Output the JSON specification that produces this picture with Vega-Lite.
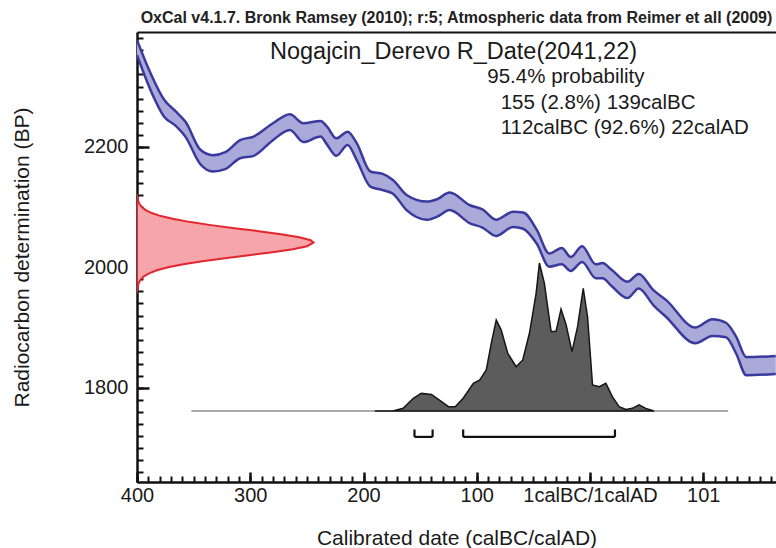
{
  "$schema": "https://vega.github.io/schema/vega-lite/v6.json",
  "width": 639,
  "height": 450,
  "autosize": {"type": "none"},
  "padding": {"left": 137, "top": 32, "right": 0, "bottom": 66},
  "background": "white",
  "title": {
    "text": "OxCal v4.1.7. Bronk Ramsey (2010); r:5; Atmospheric data from Reimer et all (2009)",
    "fontSize": 16,
    "fontWeight": "bold",
    "font": "Liberation Sans",
    "anchor": "middle",
    "frame": "group",
    "offset": 6,
    "color": "#222222"
  },
  "config": {
    "font": "Liberation Sans",
    "view": {"stroke": null},
    "axis": {
      "grid": false,
      "zindex": 1,
      "domainColor": "#111111",
      "tickColor": "#111111",
      "labelColor": "#1a1a1a",
      "titleColor": "#1a1a1a",
      "labelFont": "Liberation Sans",
      "titleFont": "Liberation Sans"
    }
  },
  "datasets": {
    "curve": [
      {"year": -400, "lo": 2352, "hi": 2377},
      {"year": -388, "lo": 2294, "hi": 2322},
      {"year": -376, "lo": 2250, "hi": 2278},
      {"year": -366, "lo": 2235, "hi": 2259},
      {"year": -357, "lo": 2216, "hi": 2241},
      {"year": -344, "lo": 2171, "hi": 2195},
      {"year": -333, "lo": 2159, "hi": 2186},
      {"year": -322, "lo": 2163, "hi": 2191},
      {"year": -309, "lo": 2181, "hi": 2211},
      {"year": -297, "lo": 2185, "hi": 2217},
      {"year": -280, "lo": 2211, "hi": 2239},
      {"year": -265, "lo": 2228, "hi": 2254},
      {"year": -253, "lo": 2208, "hi": 2239},
      {"year": -238, "lo": 2217, "hi": 2243},
      {"year": -232, "lo": 2203, "hi": 2233},
      {"year": -224, "lo": 2185, "hi": 2214},
      {"year": -214, "lo": 2203, "hi": 2225},
      {"year": -206, "lo": 2178, "hi": 2206},
      {"year": -194, "lo": 2134, "hi": 2159},
      {"year": -183, "lo": 2128, "hi": 2155},
      {"year": -174, "lo": 2122, "hi": 2145},
      {"year": -162, "lo": 2095, "hi": 2120},
      {"year": -144, "lo": 2079, "hi": 2109},
      {"year": -135, "lo": 2084, "hi": 2113},
      {"year": -124, "lo": 2095, "hi": 2124},
      {"year": -106, "lo": 2073, "hi": 2103},
      {"year": -95, "lo": 2066, "hi": 2096},
      {"year": -83, "lo": 2052, "hi": 2079},
      {"year": -68, "lo": 2067, "hi": 2092},
      {"year": -59, "lo": 2064, "hi": 2091},
      {"year": -47, "lo": 2039, "hi": 2062},
      {"year": -36, "lo": 2001, "hi": 2023},
      {"year": -25, "lo": 2005, "hi": 2032},
      {"year": -17, "lo": 1994, "hi": 2017},
      {"year": -7, "lo": 2009, "hi": 2035},
      {"year": 5, "lo": 1982, "hi": 2005},
      {"year": 11, "lo": 1982, "hi": 2007},
      {"year": 19, "lo": 1969, "hi": 1996},
      {"year": 33, "lo": 1949, "hi": 1976},
      {"year": 43, "lo": 1965, "hi": 1989},
      {"year": 56, "lo": 1937, "hi": 1962},
      {"year": 67, "lo": 1918, "hi": 1946},
      {"year": 93, "lo": 1874, "hi": 1900},
      {"year": 108, "lo": 1886, "hi": 1914},
      {"year": 120, "lo": 1884, "hi": 1908},
      {"year": 129, "lo": 1857, "hi": 1885},
      {"year": 138, "lo": 1821, "hi": 1851},
      {"year": 164, "lo": 1823, "hi": 1853}
    ],
    "gauss": [
      {"bp": 1960, "p": 0.0011}, {"bp": 1965, "p": 0.0026}, {"bp": 1970, "p": 0.0055},
      {"bp": 1975, "p": 0.0111}, {"bp": 1980, "p": 0.0214}, {"bp": 1985, "p": 0.0392},
      {"bp": 1990, "p": 0.0681}, {"bp": 1995, "p": 0.1124}, {"bp": 2000, "p": 0.1761},
      {"bp": 2005, "p": 0.2622}, {"bp": 2010, "p": 0.3705}, {"bp": 2015, "p": 0.4975},
      {"bp": 2020, "p": 0.6341}, {"bp": 2025, "p": 0.7676}, {"bp": 2030, "p": 0.8825},
      {"bp": 2035, "p": 0.9635}, {"bp": 2041, "p": 1.0}, {"bp": 2045, "p": 0.9836},
      {"bp": 2050, "p": 0.9197}, {"bp": 2055, "p": 0.8167}, {"bp": 2060, "p": 0.6887},
      {"bp": 2065, "p": 0.5516}, {"bp": 2070, "p": 0.4195}, {"bp": 2075, "p": 0.303},
      {"bp": 2080, "p": 0.2078}, {"bp": 2085, "p": 0.1353}, {"bp": 2090, "p": 0.0837},
      {"bp": 2095, "p": 0.0492}, {"bp": 2100, "p": 0.0274}, {"bp": 2105, "p": 0.0145},
      {"bp": 2110, "p": 0.0073}, {"bp": 2115, "p": 0.0035}, {"bp": 2120, "p": 0.0016}
    ],
    "post": [
      {"year": -190, "p": 0}, {"year": -174, "p": 0}, {"year": -165, "p": 0.018},
      {"year": -156, "p": 0.086}, {"year": -149, "p": 0.119}, {"year": -140, "p": 0.112},
      {"year": -133, "p": 0.074}, {"year": -125, "p": 0.029}, {"year": -119, "p": 0.029},
      {"year": -112, "p": 0.086}, {"year": -103, "p": 0.187}, {"year": -97.5, "p": 0.209},
      {"year": -91.6, "p": 0.277}, {"year": -87.2, "p": 0.457}, {"year": -82.8, "p": 0.615},
      {"year": -78.4, "p": 0.547}, {"year": -72.6, "p": 0.389}, {"year": -65.2, "p": 0.299},
      {"year": -59.4, "p": 0.345}, {"year": -53.5, "p": 0.525}, {"year": -47.6, "p": 0.795},
      {"year": -44.7, "p": 1.0}, {"year": -40.3, "p": 0.863}, {"year": -34.4, "p": 0.538},
      {"year": -30, "p": 0.538}, {"year": -25.6, "p": 0.688}, {"year": -21.2, "p": 0.584},
      {"year": -15.9, "p": 0.401}, {"year": -11, "p": 0.57}, {"year": -6, "p": 0.829},
      {"year": -2.2, "p": 0.637}, {"year": 2.2, "p": 0.176}, {"year": 8.1, "p": 0.164},
      {"year": 14, "p": 0.187}, {"year": 19.8, "p": 0.096}, {"year": 25.7, "p": 0.029},
      {"year": 31.6, "p": 0.011}, {"year": 37.4, "p": 0.018}, {"year": 43.3, "p": 0.041},
      {"year": 49.2, "p": 0.018}, {"year": 56.5, "p": 0}
    ],
    "ranges": [
      {"from": -155, "to": -139},
      {"from": -112, "to": 22}
    ],
    "heading": [
      {"label": "Nogajcin_Derevo R_Date(2041,22)", "year": -282.6, "bp": 2346}
    ],
    "lines": [
      {"label": "95.4% probability", "year": -90.7, "bp": 2306},
      {"label": "155 (2.8%) 139calBC", "year": -78.9, "bp": 2263},
      {"label": "112calBC (92.6%) 22calAD", "year": -78.9, "bp": 2221}
    ]
  },
  "layer": [
    {
      "data": {"name": "curve"},
      "mark": {"type": "area", "fill": "#a9a9da", "interpolate": "monotone", "clip": true},
      "encoding": {
        "x": {
          "field": "year", "type": "quantitative",
          "scale": {"domain": [-400, 164.2], "nice": false, "zero": false},
          "axis": {
            "orient": "bottom",
            "values": [-400, -300, -200, -100, 0, 100],
            "labelExpr": "datum.value == 0 ? '1calBC/1calAD' : (datum.value < 0 ? '' + (-datum.value) : '' + (datum.value + 1))",
            "tickSize": -10,
            "tickWidth": 2.5,
            "domainWidth": 2.5,
            "labelFontSize": 20,
            "labelPadding": 13,
            "labelFlush": false,
            "labelOverlap": false,
            "title": "Calibrated date (calBC/calAD)",
            "titleFontSize": 21,
            "titleFontWeight": "normal",
            "titlePadding": 22
          }
        },
        "y": {
          "field": "lo", "type": "quantitative",
          "scale": {"domain": [1643.7, 2390.5], "nice": false, "zero": false},
          "axis": {
            "orient": "left",
            "values": [1800, 2000, 2200],
            "format": "d",
            "tickSize": -12,
            "tickWidth": 2.5,
            "domainWidth": 2.5,
            "labelFontSize": 20,
            "labelPadding": 21,
            "title": "Radiocarbon determination (BP)",
            "titleFontSize": 21,
            "titleFontWeight": "normal",
            "titlePadding": 51
          }
        },
        "y2": {"field": "hi"}
      }
    },
    {
      "data": {"name": "curve"},
      "transform": [{"fold": ["lo", "hi"], "as": ["edge", "bp"]}],
      "mark": {"type": "line", "color": "#3a3a9e", "strokeWidth": 2.5, "interpolate": "monotone", "clip": true},
      "encoding": {
        "x": {"field": "year", "type": "quantitative", "scale": {"domain": [-400, 164.2], "nice": false, "zero": false}, "axis": null},
        "y": {"field": "bp", "type": "quantitative", "scale": {"domain": [1643.7, 2390.5], "nice": false, "zero": false}, "axis": null},
        "detail": {"field": "edge"}
      }
    },
    {
      "data": {"name": "heading"},
      "mark": {"type": "text", "align": "left", "baseline": "alphabetic", "fontSize": 23.5, "color": "#1a1a1a"},
      "encoding": {
        "x": {"field": "year", "type": "quantitative", "scale": {"domain": [-400, 164.2], "nice": false, "zero": false}, "axis": null},
        "y": {"field": "bp", "type": "quantitative", "scale": {"domain": [1643.7, 2390.5], "nice": false, "zero": false}, "axis": null},
        "text": {"field": "label"}
      }
    },
    {
      "data": {"name": "lines"},
      "mark": {"type": "text", "align": "left", "baseline": "alphabetic", "fontSize": 20.5, "color": "#1a1a1a"},
      "encoding": {
        "x": {"field": "year", "type": "quantitative", "scale": {"domain": [-400, 164.2], "nice": false, "zero": false}, "axis": null},
        "y": {"field": "bp", "type": "quantitative", "scale": {"domain": [1643.7, 2390.5], "nice": false, "zero": false}, "axis": null},
        "text": {"field": "label"}
      }
    },
    {
      "data": {"name": "gauss"},
      "mark": {"type": "area", "orient": "horizontal", "fill": "#f6a5ab", "stroke": "#e3262e", "strokeWidth": 2, "clip": true},
      "encoding": {
        "y": {
          "field": "bp", "type": "quantitative",
          "scale": {"domain": [1643.7, 2390.5], "nice": false, "zero": false},
          "axis": {
            "orient": "left",
            "values": [1660, 1680, 1700, 1720, 1740, 1760, 1780, 1800, 1820, 1840, 1860, 1880, 1900, 1920, 1940, 1960, 1980, 2000, 2020, 2040, 2060, 2080, 2100, 2120, 2140, 2160, 2180, 2200, 2220, 2240, 2260, 2280, 2300, 2320, 2340, 2360, 2380],
            "tickSize": -6,
            "tickWidth": 2,
            "labels": false,
            "domain": false,
            "title": null
          }
        },
        "x": {
          "field": "p", "type": "quantitative",
          "scale": {"domain": [0, 3.62], "nice": false},
          "axis": {"orient": "top", "ticks": false, "labels": false, "domain": true, "domainWidth": 2, "title": null}
        },
        "x2": {"datum": 0}
      }
    },
    {
      "data": {"values": [{"start": -352, "end": 122}]},
      "mark": {"type": "rule", "color": "#ababab", "strokeWidth": 2},
      "encoding": {
        "x": {
          "field": "start", "type": "quantitative",
          "scale": {"domain": [-400, 164.2], "nice": false, "zero": false},
          "axis": {
            "orient": "bottom",
            "values": [-400, -390, -380, -370, -360, -350, -340, -330, -320, -310, -300, -290, -280, -270, -260, -250, -240, -230, -220, -210, -200, -190, -180, -170, -160, -150, -140, -130, -120, -110, -100, -90, -80, -70, -60, -50, -40, -30, -20, -10, 0, 10, 20, 30, 40, 50, 60, 70, 80, 90, 100, 110, 120, 130, 140, 150, 160],
            "tickSize": -6,
            "tickWidth": 2,
            "labels": false,
            "domain": false,
            "title": null
          }
        },
        "x2": {"field": "end"},
        "y": {"datum": 0, "type": "quantitative", "scale": {"domain": [-0.4797, 2.5608], "nice": false, "zero": false}, "axis": null}
      }
    },
    {
      "data": {"name": "post"},
      "mark": {"type": "area", "fill": "#5c5c5c", "stroke": "#161616", "strokeWidth": 1.5, "clip": true},
      "encoding": {
        "x": {"field": "year", "type": "quantitative", "scale": {"domain": [-400, 164.2], "nice": false, "zero": false}, "axis": null},
        "y": {"field": "p", "type": "quantitative", "scale": {"domain": [-0.4797, 2.5608], "nice": false, "zero": false}, "axis": null},
        "y2": {"datum": 0}
      }
    },
    {
      "data": {"name": "ranges"},
      "mark": {"type": "rule", "color": "#111111", "strokeWidth": 2.2},
      "encoding": {
        "x": {"field": "from", "type": "quantitative", "scale": {"domain": [-400, 164.2], "nice": false, "zero": false}, "axis": null},
        "x2": {"field": "to"},
        "y": {"datum": -0.175, "type": "quantitative", "scale": {"domain": [-0.4797, 2.5608], "nice": false, "zero": false}, "axis": null}
      }
    },
    {
      "data": {"name": "ranges"},
      "transform": [{"fold": ["from", "to"], "as": ["end", "yr"]}],
      "mark": {"type": "rule", "color": "#111111", "strokeWidth": 2.2},
      "encoding": {
        "x": {"field": "yr", "type": "quantitative", "scale": {"domain": [-400, 164.2], "nice": false, "zero": false}, "axis": null},
        "y": {"datum": -0.175, "type": "quantitative", "scale": {"domain": [-0.4797, 2.5608], "nice": false, "zero": false}, "axis": null},
        "y2": {"datum": -0.125}
      }
    }
  ],
  "resolve": {"scale": {"x": "independent", "y": "independent"}, "axis": {"x": "independent", "y": "independent"}}
}
